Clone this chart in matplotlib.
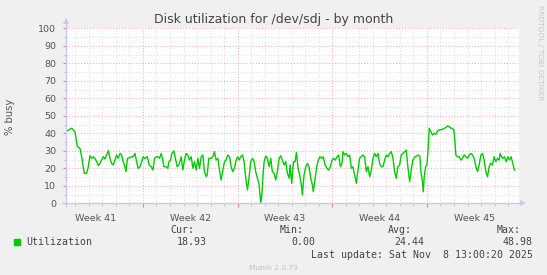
import matplotlib
matplotlib.use("Agg")
import matplotlib.pyplot as plt
from matplotlib.patches import Rectangle
import numpy as np

# ---- data (days since left edge of the graph, % busy) ----
days = [0.05, 0.42, 0.66, 0.84, 1.03, 1.16, 1.35, 1.53, 1.65, 1.77, 1.90, 2.02, 2.14, 2.27, 2.39,
        2.51, 2.63, 2.76, 2.88, 3.00, 3.13, 3.25, 3.37, 3.50, 3.62, 3.74, 3.86, 3.99, 4.11, 4.23,
        4.36, 4.43, 4.55, 4.73, 4.85, 4.97, 5.10, 5.22, 5.34, 5.47, 5.59, 5.71, 5.83, 6.01, 6.15,
        6.30, 6.43, 6.55, 6.67, 6.79, 6.92, 7.04, 7.16, 7.24, 7.41, 7.53, 7.61, 7.73, 7.83, 7.98,
        8.07, 8.22, 8.35, 8.52, 8.64, 8.76, 8.89, 9.01, 9.13, 9.26, 9.38, 9.50, 9.63, 9.75, 9.87,
        10.00, 10.12, 10.24, 10.37, 10.44, 10.56, 10.73, 10.86, 10.98, 11.10, 11.23, 11.35, 11.47,
        11.60, 11.72, 11.84, 11.96, 12.09, 12.21, 12.33, 12.46, 12.58, 12.70,
        12.80, 12.92, 13.05, 13.17, 13.29, 13.42, 13.54, 13.66, 13.79, 13.91, 14.03, 14.16, 14.28,
        14.40, 14.48, 14.57, 14.65, 14.77, 14.89, 15.02, 15.14, 15.26, 15.39, 15.51, 15.63, 15.76,
        15.88, 16.00, 16.13, 16.25, 16.37, 16.50, 16.57, 16.69, 16.82, 16.94, 17.04, 17.16, 17.28,
        17.40, 17.48, 17.60, 17.73, 17.85, 17.97, 18.10, 18.22, 18.29, 18.41, 18.54, 18.66, 18.78,
        18.91, 19.03, 19.15,
        19.30, 19.42, 19.55, 19.67, 19.79, 19.92, 20.04, 20.16, 20.29, 20.41, 20.48, 20.61, 20.73,
        20.85, 20.97, 21.10, 21.22, 21.34, 21.47, 21.59, 21.71, 21.84, 21.96, 22.08, 22.21, 22.33,
        22.45, 22.58, 22.70, 22.82, 22.94, 23.07, 23.19, 23.31, 23.44, 23.56, 23.68, 23.81, 23.93,
        24.05, 24.18, 24.30, 24.42, 24.54, 24.67, 24.79, 24.91, 25.04, 25.16, 25.28, 25.41, 25.53,
        25.65,
        25.80, 25.92, 26.05, 26.17, 26.24, 26.34, 26.42, 26.49, 26.59, 26.69, 26.79, 26.86, 26.98,
        27.10, 27.23, 27.35, 27.47, 27.60, 27.72, 27.84, 27.97, 28.09, 28.21, 28.34, 28.46, 28.56,
        28.68, 28.76, 28.83, 28.95, 29.08, 29.20, 29.32, 29.44, 29.57, 29.69, 29.81, 29.94, 30.06,
        30.18, 30.31, 30.43, 30.55, 30.68, 30.80, 30.92, 31.05, 31.17, 31.29, 31.41, 31.54, 31.66,
        31.78, 31.91, 32.03, 32.10, 32.20, 32.30, 32.42, 32.55, 32.67, 32.79, 32.91, 33.04, 33.16]

utilization = [41.3, 42.9, 40.9, 32.4, 31.4, 26.6, 17.1, 17.1, 20.9, 27.2, 25.7, 26.6, 25.7, 23.8, 21.5,
               22.8, 24.7, 26.6, 25.3, 27.6, 30.1, 25.7, 22.8, 21.9, 24.7, 27.6, 25.7, 28.5, 27.6, 23.8,
               20.9, 18.1, 25.7, 26.1, 26.6, 26.6, 28.5, 23.8, 20.0, 20.9, 23.8, 26.6, 25.7, 26.6, 21.9,
               20.9, 19.0, 25.7, 26.6, 26.6, 25.7, 28.5, 24.7, 20.9, 20.9, 20.0, 23.8, 24.7, 28.5, 29.9,
               26.6, 20.9, 21.9, 26.6, 19.0, 24.7, 28.5, 27.6, 24.7, 26.6, 20.0, 23.8, 19.0, 25.7, 20.0,
               26.6, 27.6, 18.1, 15.2, 16.2, 25.7, 25.7, 26.6, 29.5, 24.7, 25.7, 19.0, 13.3,
               19.0, 23.8, 24.7, 27.6, 26.6, 20.9, 18.1, 20.0, 24.7, 26.6,
               24.7, 26.6, 27.6, 23.8, 14.3, 7.6, 15.2, 23.8, 25.7, 23.8, 18.1, 14.3, 10.5,
               0.0, 4.8, 16.2, 23.8, 27.0, 25.7, 20.9, 25.7, 18.1, 17.1, 13.3, 18.1, 25.7,
               27.2, 24.7, 21.9, 23.8, 17.1, 14.3, 21.9, 11.4, 23.8, 23.8, 29.1, 20.0, 16.2,
               10.5, 4.8, 16.2, 20.9, 22.8, 20.9, 14.3, 10.5, 6.6, 13.3, 20.9, 24.7, 26.6,
               25.7, 26.6, 21.9,
               20.0, 19.0, 20.9, 24.7, 25.7, 24.7, 26.6, 27.6, 20.9, 22.8, 29.5, 27.6, 28.5,
               26.6, 27.6, 20.0, 20.9, 16.2, 11.4, 19.0, 25.7, 26.6, 27.6, 26.6, 18.1, 20.9,
               15.2, 19.0, 25.7, 28.5, 26.6, 28.5, 22.8, 20.9, 20.9, 24.7, 27.6, 26.6, 28.5,
               29.5, 25.7, 18.1, 14.3, 20.9, 21.9, 27.6, 28.5, 29.5, 30.4, 20.9, 12.4, 19.0,
               24.7,
               26.6, 27.0, 27.6, 26.6, 18.1, 13.3, 6.6, 15.2, 20.9, 21.9, 32.4, 42.9, 40.9,
               39.0, 40.0, 39.4, 41.3, 42.0, 42.0, 42.3, 42.9, 43.2, 44.2, 43.8, 42.9, 42.9,
               42.0, 35.2, 27.6, 26.6, 26.6, 24.7, 25.7, 27.6, 26.6, 25.7, 27.6, 28.5, 27.6,
               25.7, 20.9, 18.1, 21.9, 27.6, 28.5, 24.7, 18.1, 15.2, 20.9, 22.8, 21.9, 26.6,
               23.8, 25.7, 24.7, 28.5, 26.6, 25.7, 26.6, 23.8, 26.6, 24.7, 26.6, 22.8, 18.93]

span_days = 33.46
first_week_boundary = 5.69
week_labels = ["Week 41", "Week 42", "Week 43", "Week 44", "Week 45"]

series_name = "Utilization"
cur_val, min_val, avg_val, max_val = "18.93", "0.00", "24.44", "48.98"
last_update = "Last update: Sat Nov  8 13:00:20 2025"
title = "Disk utilization for /dev/sdj - by month"
ylabel = "% busy"
footer = "Munin 2.0.73"
side_text = "RRDTOOL / TOBI OETIKER"

# ---- figure ----
W, H = 547, 275
fig = plt.figure(figsize=(W / 100, H / 100), dpi=100, facecolor="#F0F0F0")

def fx(px):
    return px / W

def fy(py):
    return 1 - py / H

L, R, T, B = 66, 518.5, 28.3, 203.3
ax = fig.add_axes([fx(L), fy(B), fx(R) - fx(L), fy(T) - fy(B)])
ax.set_facecolor("white")
ax.set_xlim(0, span_days)
ax.set_ylim(0, 100)

major_x = np.arange(first_week_boundary, span_days, 7.0)
minor_x = np.arange(first_week_boundary % 1.0, span_days, 1.0)
ax.set_xticks(major_x)
ax.set_xticks(minor_x, minor=True)
ax.set_yticks(np.arange(0, 101, 10))
ax.set_yticks(np.arange(5, 100, 10), minor=True)

major_col = "#F4A6A6"
minor_col = "#D8D8D8"
ax.grid(which="minor", color=minor_col, linestyle=(0, (1, 2)), linewidth=0.7)
ax.grid(which="major", color=major_col, linestyle=(0, (1, 2)), linewidth=0.7)
ax.set_axisbelow(True)

for s in ax.spines.values():
    s.set_visible(False)

ax.tick_params(axis="x", which="major", length=3, color="#F08080", labelbottom=False, direction="out")
ax.tick_params(axis="x", which="minor", length=2, color="#C0C0C0", direction="out")
ax.tick_params(axis="y", which="major", length=2, color="#F08080", labelsize=6.8,
               labelcolor="#555555", pad=5)
ax.tick_params(axis="y", which="minor", length=2, color="#C0C0C0")

# data line
ax.plot(days, utilization, color="#00CC00", linewidth=1.0, solid_joinstyle="round", zorder=3)

# axes lines with arrows
axis_col = "#C8C8F8"
ax.plot([0, 0], [-0.015, 1.035], transform=ax.transAxes, color=axis_col, lw=1.0, clip_on=False, zorder=4)
ax.plot([-0.008, 1.005], [0, 0], transform=ax.transAxes, color=axis_col, lw=1.0, clip_on=False, zorder=4)
ax.plot([0], [1.04], transform=ax.transAxes, marker="^", markersize=5, color=axis_col,
        clip_on=False, markeredgewidth=0, zorder=4)
ax.plot([1.01], [0], transform=ax.transAxes, marker=">", markersize=5, color=axis_col,
        clip_on=False, markeredgewidth=0, zorder=4)

# week labels centered between boundaries
week_centers = np.concatenate(([first_week_boundary - 3.5], major_x + 3.5))
for xc, lab in zip(week_centers, week_labels):
    ax.text(xc, -0.06, lab, transform=ax.get_xaxis_transform(), ha="center", va="top",
            fontsize=6.8, color="#555555")

# title and labels
fig.text(fx(273.5), fy(20), title, ha="center", va="center", fontsize=9, color="#444444")
fig.text(fx(10), fy(117), ylabel, ha="center", va="center", rotation=90, fontsize=7.2, color="#555555")
fig.text(fx(540), fy(53), side_text, ha="center", va="center", rotation=-90, fontsize=5.4, color="#C8C8C8")

# legend
mono = dict(family="DejaVu Sans Mono", fontsize=7.1, color="#444444")
fig.patches.append(Rectangle((fx(14), fy(245)), fx(5.5), fy(239) - fy(245),
                             transform=fig.transFigure, color="#00CC00", figure=fig))
fig.text(fx(26), fy(242), series_name, ha="left", va="center", **mono)
headers = [("Cur:", 194, cur_val, 206.5), ("Min:", 303.5, min_val, 315.7),
           ("Avg:", 412, avg_val, 424), ("Max:", 520.5, max_val, 532.7)]
for h, hx, v, vx in headers:
    fig.text(fx(hx), fy(230), h, ha="right", va="center", **mono)
    fig.text(fx(vx), fy(242), v, ha="right", va="center", **mono)
fig.text(fx(532.7), fy(254.7), last_update, ha="right", va="center", **mono)
fig.text(fx(273), fy(268), footer, ha="center", va="center", fontsize=5.4, color="#C0C0C0")

fig.savefig("out.png", dpi=100, facecolor=fig.get_facecolor())
